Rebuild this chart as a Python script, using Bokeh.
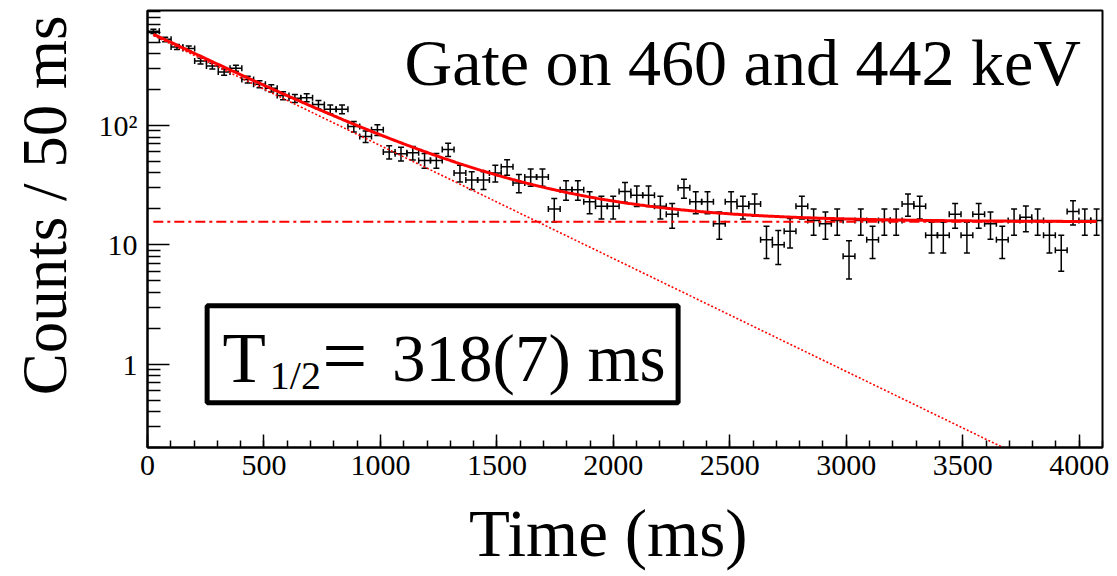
import numpy as np
from bokeh.plotting import figure
from bokeh.models import (Range1d, FixedTicker, CustomJSTickFormatter, Whisker,
                          TeeHead, ColumnDataSource, Label, BoxAnnotation)
from bokeh.embed import file_html
from bokeh.resources import INLINE

# ---------------- data ----------------
T_MIN, T_MAX = 0.0, 4100.0          # histogram range (ms)
counts = [615, 527, 455, 442, 347, 315, 281, 302, 243, 222,
          205, 178, 169, 171, 150, 137, 137, 98, 81, 92,
          60, 58, 59, 51, 51, 63, 40, 35, 35, 40,
          45, 33, 37, 37, 20, 29, 29, 23, 21, 21,
          28, 26, 26, 21, 18, 30, 23, 23, 15, 23,
          21, 22, 11, 10, 13, 21, 16, 15, 16, 8,
          16, 11, 16, 16, 22, 21, 12, 12, 18, 12,
          18, 15, 11, 16, 17, 16, 12, 9, 19, 16,
          16]
x_ticks = [0, 500, 1000, 1500, 2000, 2500, 3000, 3500, 4000]
y_ticks = [1, 10, 100]

# fit parameters (exponential decay + constant background)
A0 = 600.0        # amplitude at t = 0
T_HALF = 318.0    # half-life (ms)
BKG = 15.6        # constant background
FIT_START, FIT_END = 25.0, 4075.0

gate_text = "Gate on 460 and 442 keV"
half_life_value = "318(7) ms"

# ---------------- derived ----------------
n = np.array(counts, dtype=float)
nb = len(counts)
edges = np.linspace(T_MIN, T_MAX, nb + 1)
centers = 0.5 * (edges[:-1] + edges[1:])
err = np.sqrt(n)
src = ColumnDataSource(dict(t=centers, n=n, lo=n - err, hi=n + err,
                            left=edges[:-1], right=edges[1:]))

tf = np.linspace(FIT_START, FIT_END, 600)
expo = A0 * np.power(2.0, -tf / T_HALF)
total = expo + BKG
ef = expo > 0.15

SERIF = "Liberation Serif"
NB = "\u00a0"

p = figure(width=1110, height=572, output_backend="svg", toolbar_location=None,
           x_range=Range1d(T_MIN, T_MAX), y_range=Range1d(0.2, 920),
           y_axis_type="log", min_border_left=147, min_border_right=8,
           min_border_top=10, min_border_bottom=122)
p.grid.visible = False
p.background_fill_color = "white"
p.border_fill_color = "white"
p.outline_line_color = "black"
p.outline_line_width = 2

# fit components
p.line(tf[ef], expo[ef], line_color="#ff0000", line_width=1.6, line_dash="2 2")
p.line([FIT_START, FIT_END], [BKG, BKG], line_color="#ff0000", line_width=2.2,
       line_dash="10 4 3 4")
p.line(tf, total, line_color="#ff0000", line_width=3)

# error bars (data)
head = dict(size=6, line_width=1.5, line_color="black")
p.add_layout(Whisker(source=src, base="t", lower="lo", upper="hi", dimension="height",
                     line_color="black", line_width=1.5,
                     upper_head=TeeHead(**head), lower_head=TeeHead(**head)))
p.add_layout(Whisker(source=src, base="n", lower="left", upper="right", dimension="width",
                     line_color="black", line_width=1.5,
                     upper_head=TeeHead(**head), lower_head=TeeHead(**head)))

# axes
xa = p.xaxis[0]
xa.ticker = FixedTicker(ticks=x_ticks, minor_ticks=list(range(0, 4101, 100)))
xa.axis_label = "Time (ms)" + NB * 2
ya = p.yaxis[0]
minor_y = [k * 10.0 ** e for e in (-1, 0, 1, 2) for k in range(2, 10)]
ya.ticker = FixedTicker(ticks=y_ticks, minor_ticks=minor_y)
ya.formatter = CustomJSTickFormatter(code="return tick > 99 ? '10\u00b2' : String(Math.round(tick));")
ya.axis_label = NB * 3 + "Counts / 50 ms"

for ax, tin, tmin in ((xa, 13, 7), (ya, 22, 13)):
    ax.axis_line_color = "black"
    ax.axis_line_width = 2
    ax.major_tick_in = tin
    ax.major_tick_out = 0
    ax.minor_tick_in = tmin
    ax.minor_tick_out = 0
    ax.major_tick_line_color = "black"
    ax.minor_tick_line_color = "black"
    ax.major_tick_line_width = 1.5
    ax.minor_tick_line_width = 1.5
    ax.major_label_text_font = SERIF
    ax.major_label_text_font_size = "30px"
    ax.major_label_text_color = "black"
    ax.axis_label_text_font = SERIF
    ax.axis_label_text_font_style = "normal"
    ax.axis_label_text_color = "black"
xa.axis_label_text_font_size = "67px"
ya.axis_label_text_font_size = "63px"
xa.major_label_standoff = 8
xa.axis_label_standoff = 18
ya.major_label_standoff = 10
ya.axis_label_standoff = 16

# annotations
p.add_layout(Label(x=4007, y=340, text=gate_text, text_align="right",
                   text_baseline="alphabetic", text_font=SERIF,
                   text_font_size="66px", text_color="black"))
p.add_layout(BoxAnnotation(left=256, right=2278, bottom=0.474, top=3.09,
                           fill_alpha=0, line_color="black", line_alpha=1.0,
                           line_width=5))
p.add_layout(Label(x=322, y=1.133, text="T", text_baseline="alphabetic",
                   text_font=SERIF, text_font_size="71px", text_color="black"))
p.add_layout(Label(x=525, y=0.80, text="1/2", text_baseline="alphabetic",
                   text_font=SERIF, text_font_size="40px", text_color="black"))
p.add_layout(Label(x=750, y=1.16, text="=", text_baseline="alphabetic",
                   text_font=SERIF, text_font_size="80px", text_color="black"))
p.add_layout(Label(x=1050, y=1.12, text=half_life_value, text_baseline="alphabetic",
                   text_font=SERIF, text_font_size="67px", text_color="black"))

open("out.html", "w").write(file_html(p, INLINE))
